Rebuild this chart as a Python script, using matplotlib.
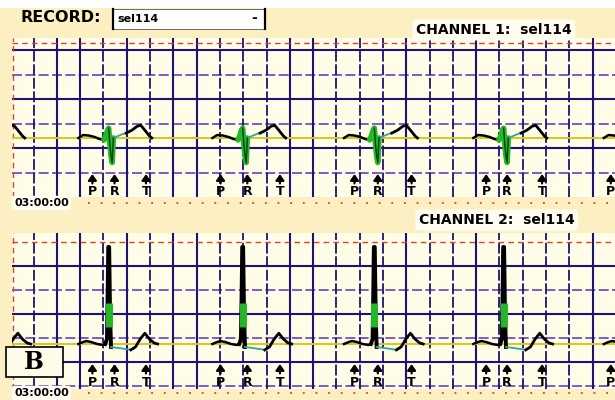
import numpy as np
import matplotlib
matplotlib.use('Agg')
import matplotlib.pyplot as plt
from matplotlib.patches import Rectangle
from matplotlib.lines import Line2D

########################################
# values (time in s from left edge of strip, mV)

beat_times = [-0.26, 0.83, 1.98, 3.11, 4.22, 5.34]

# annotation marks under the strips
p_marks = [0.69, 1.79, 2.94, 4.07, 5.14]
r_marks = [0.88, 2.02, 3.14, 4.25]
t_marks = [1.15, 2.30, 3.43, 4.55]

# channel 1 beat shape, relative to R
ch1_p_t = [-0.26, -0.22, -0.17, -0.12, -0.08, -0.04]
ch1_p_v = [0.0, 0.03, 0.025, 0.01, -0.01, -0.02]
ch1_qrs_t = [-0.04, -0.025, -0.01, 0.0, 0.01, 0.02, 0.03, 0.04]
ch1_qrs_v = [-0.02, 0.02, 0.08, 0.10, -0.06, -0.18, -0.25, 0.0]
ch1_st_t = [0.04, 0.08, 0.12, 0.15]
ch1_st_v = [0.0, 0.02, 0.04, 0.05]
ch1_t_t = [0.15, 0.20, 0.245, 0.275, 0.31, 0.35, 0.37]
ch1_t_v = [0.05, 0.08, 0.12, 0.13, 0.08, 0.02, 0.0]

# channel 2 beat shape, relative to R
ch2_p_t = [-0.26, -0.22, -0.19, -0.15, -0.10, -0.05, -0.03]
ch2_p_v = [0.0, 0.02, 0.03, 0.02, 0.0, -0.01, 0.0]
ch2_qrs_t = [-0.03, -0.015, -0.008, -0.004, 0.004, 0.012, 0.02]
ch2_qrs_v = [0.0, 0.05, 0.6, 0.99, 0.99, 0.3, -0.03]
ch2_green = [0.17, 0.42]
ch2_st_t = [0.02, 0.08, 0.14, 0.19]
ch2_st_v = [-0.03, -0.04, -0.05, -0.06]
ch2_t_t = [0.19, 0.23, 0.27, 0.31, 0.35, 0.39, 0.42]
ch2_t_v = [-0.06, -0.03, 0.05, 0.11, 0.05, 0.01, 0.0]

########################################
# layout (pixels of the 615x400 screen)

W, H = 615, 400
PX_S = 116.5   # px per second
PX_MV = 98.0   # px per mV

BG = '#fcf0c2'
PAPER = '#fffce8'
NAVY = '#1b1470'
PURPLE = '#6a3fc0'
RED = '#e0402c'
YELLOW = '#d8c81a'
GREEN = '#22b82a'
TEAL = '#2aa8a0'

grid_cols = [33.5 + 23.3 * k for k in range(26)]
solid_cols = [1, 2, 4, 6, 7, 11, 12, 16, 19, 24]


def fx(px):
    return px / W


def fy(py):
    return 1 - py / H


def make_strip(fig, top, bottom, base, solid_rows, dashed_rows, red_row):
    ax = fig.add_axes([fx(12), fy(bottom), fx(W - 12), (bottom - top) / H])
    ax.set_facecolor(PAPER)
    ax.set_xlim(0, (W - 12) / PX_S)
    ax.set_ylim((base - bottom) / PX_MV, (base - top) / PX_MV)
    ax.set_xticks([])
    ax.set_yticks([])
    for s in ax.spines.values():
        s.set_visible(False)
    for py in solid_rows:
        ax.axhline((base - py) / PX_MV, color=NAVY, lw=1.5, zorder=1)
    for py in dashed_rows:
        ax.axhline((base - py) / PX_MV, color=PURPLE, lw=1.2, ls=(0, (6, 2)), zorder=1)
    ax.axhline((base - red_row) / PX_MV, color=RED, lw=1.0, ls=(0, (4, 3)), zorder=1.5)
    for k, px in enumerate(grid_cols):
        x = (px - 12) / PX_S
        if k in solid_cols:
            ax.axvline(x, color=NAVY, lw=1.5, zorder=1)
        else:
            ax.axvline(x, color=NAVY, lw=1.3, ls=(0, (6, 1.5)), zorder=1)
    ax.axvline(0.01, color=RED, lw=1.0, ls=(0, (4, 3)), zorder=1.5)
    ax.axhline(0, color=YELLOW, lw=1.4, zorder=2)
    return ax


def draw_marks(ax, base, arrow_py, letter_py):
    ya = (base - arrow_py) / PX_MV
    yl = (base - letter_py) / PX_MV
    for marks, lab in [(p_marks, 'P'), (r_marks, 'R'), (t_marks, 'T')]:
        for x in marks:
            ax.annotate('', xy=(x, ya + 0.05), xytext=(x, ya - 0.045),
                        arrowprops=dict(arrowstyle='-|>,head_length=0.35,head_width=0.25',
                                        color='black', lw=1.6, shrinkA=0, shrinkB=0),
                        zorder=5)
            ax.text(x, yl, lab, ha='center', va='center', fontsize=9,
                    fontweight='bold', color='black', zorder=5)


fig = plt.figure(figsize=(6.15, 4.0), dpi=100, facecolor=BG)
fig.add_artist(Rectangle((0, fy(8)), 1, 8 / H, transform=fig.transFigure,
                         facecolor='white', edgecolor='none'))

# header
fig.text(fx(20), fy(18), 'RECORD:', fontsize=11.5, fontweight='bold', va='center', ha='left')
fig.add_artist(Rectangle((fx(113), fy(29)), fx(152), 20 / H, transform=fig.transFigure,
                         facecolor='white', edgecolor='#555555', lw=0.6))
fig.add_artist(Line2D([fx(113), fx(113)], [fy(29), fy(9)], transform=fig.transFigure,
                      color='black', lw=1.6))
fig.add_artist(Line2D([fx(265), fx(265)], [fy(29), fy(9)], transform=fig.transFigure,
                      color='black', lw=1.6))
fig.text(fx(117), fy(19), 'sel114', fontsize=8, fontweight='bold', va='center', ha='left')
fig.text(fx(254), fy(18), '-', fontsize=10, fontweight='bold', va='center', ha='center')

box = dict(boxstyle='round,pad=0.25', facecolor='#fffdf2', edgecolor='none')
fig.text(fx(416), fy(30), 'CHANNEL 1:  sel114', fontsize=10, fontweight='bold',
         va='center', ha='left', bbox=box)
fig.text(fx(419), fy(220), 'CHANNEL 2:  sel114', fontsize=10, fontweight='bold',
         va='center', ha='left', bbox=box)

# channel 1
ax1 = make_strip(fig, 38, 197, 138, [50, 99, 148], [75, 124, 173], 43)
for tb in beat_times:
    ax1.plot(np.add(ch1_p_t, tb), ch1_p_v, color='black', lw=1.8, zorder=3)
    ax1.plot(np.add(ch1_qrs_t, tb), ch1_qrs_v, color=GREEN, lw=4, zorder=3,
             solid_capstyle='round')
    ax1.plot(np.add(ch1_qrs_t[3:], tb), ch1_qrs_v[3:], color='#0a3a10', lw=1.0, zorder=4)
    ax1.plot(np.add(ch1_st_t, tb), ch1_st_v, color=TEAL, lw=1.3, zorder=3)
    ax1.plot(np.add(ch1_t_t, tb), ch1_t_v, color='black', lw=2.0, zorder=3)
draw_marks(ax1, 138, 179, 192)

# channel 2
ax2 = make_strip(fig, 233, 389, 344, [266, 314, 362], [290, 338, 386], 242)
for tb in beat_times:
    ax2.plot(np.add(ch2_p_t, tb), ch2_p_v, color='black', lw=1.8, zorder=3)
    ax2.plot(np.add(ch2_qrs_t, tb), ch2_qrs_v, color='black', lw=2.8, zorder=3)
    ax2.plot([tb, tb], ch2_green, color=GREEN, lw=5, zorder=4, solid_capstyle='butt')
    ax2.plot(np.add(ch2_st_t, tb), ch2_st_v, color=TEAL, lw=1.3, zorder=3)
    ax2.plot(np.add(ch2_t_t, tb), ch2_t_v, color='black', lw=2.0, zorder=3)
draw_marks(ax2, 344, 369, 382)

# time stamps and red dotted bottom rules
tbox = dict(boxstyle='round,pad=0.2', facecolor='#fffdf2', edgecolor='none')
for py in [203, 393]:
    fig.text(fx(14), fy(py), '03:00:00', fontsize=8, fontweight='bold',
             va='center', ha='left', bbox=tbox)
    fig.add_artist(Line2D([fx(88), 1], [fy(py), fy(py)], transform=fig.transFigure,
                          color=RED, lw=1.3, ls=(0, (1, 6))))

# panel label
fig.add_artist(Rectangle((fx(6), fy(377)), fx(57), 30 / H, transform=fig.transFigure,
                         facecolor='#fffbea', edgecolor='black', lw=1.2, zorder=6))
fig.text(fx(34), fy(362), 'B', fontsize=17, fontweight='bold', family='DejaVu Serif',
         va='center', ha='center', zorder=7)

fig.savefig('out.png', dpi=100, facecolor=BG)
